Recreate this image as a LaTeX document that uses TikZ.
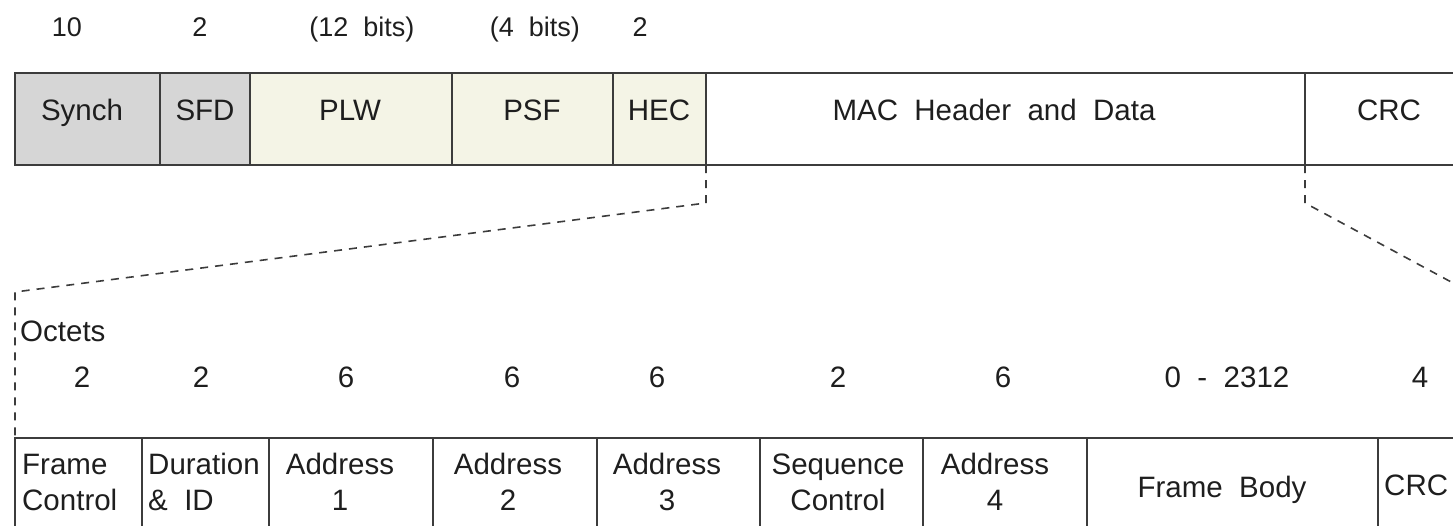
\documentclass[tikz,border=0pt]{standalone}
\usepackage{fontspec}
\setmainfont{Liberation Sans}[WordSpace=2]
\definecolor{txtcol}{HTML}{1E1E1E}
\definecolor{linecol}{HTML}{3C3C3C}
\definecolor{graycell}{HTML}{D6D6D6}
\definecolor{yelcell}{HTML}{F4F4E6}
\begin{document}
\begin{tikzpicture}[x=1pt,y=-1pt,
  cell/.style={draw=linecol, line width=2.2pt, rectangle, inner sep=0pt, outer sep=0pt, anchor=north west},
  bcell/.style={draw=linecol, line width=1.8pt, rectangle, inner sep=0pt, outer sep=0pt, anchor=north west, minimum height=100pt},
  txt/.style={inner sep=0pt, text=txtcol, font=\fontsize{29.5}{36}\selectfont},
  toptxt/.style={inner sep=0pt, text=txtcol, font=\fontsize{27}{32}\selectfont},
  dashconn/.style={draw=linecol, line width=1.6pt, dash pattern=on 8pt off 7pt}
]
\useasboundingbox (0,0) rectangle (1453,525);
\clip (0,0) rectangle (1453,525);

% top sizes
\node[toptxt, anchor=base] (t1) at (67,36) {10};
\node[toptxt, anchor=base] (t2) at (200,36) {2};
\node[toptxt, anchor=base] (t3) at (362,36) {(12 bits)};
\node[toptxt, anchor=base] (t4) at (535,36) {(4 bits)};
\node[toptxt, anchor=base] (t5) at (640,36) {2};

% top frame
\node[cell, fill=graycell, minimum width=145pt, minimum height=92pt] (synch) at (15,73) {};
\node[cell, fill=graycell, minimum width=90pt, minimum height=92pt] (sfd) at (160,73) {};
\node[cell, fill=yelcell, minimum width=202pt, minimum height=92pt] (plw) at (250,73) {};
\node[cell, fill=yelcell, minimum width=161pt, minimum height=92pt] (psf) at (452,73) {};
\node[cell, fill=yelcell, minimum width=93pt, minimum height=92pt] (hec) at (613,73) {};
\node[cell, fill=white, minimum width=599pt, minimum height=92pt] (mac) at (706,73) {};
\node[cell, fill=white, minimum width=168pt, minimum height=92pt] (crc) at (1305,73) {};

\node[txt, anchor=base] (synchT) at (82,120) {Synch};
\node[txt, anchor=base] (sfdT) at (205,120) {SFD};
\node[txt, anchor=base] (plwT) at (350,120) {PLW};
\node[txt, anchor=base] (psfT) at (532,120) {PSF};
\node[txt, anchor=base] (hecT) at (659,120) {HEC};
\node[txt, anchor=base] (macT) at (994,120) {MAC Header and Data};
\node[txt, anchor=base] (crcT) at (1389,120) {CRC};

% bottom frame
\node[bcell, minimum width=127pt] (fc) at (15,438) {};
\node[bcell, minimum width=127pt] (di) at (142,438) {};
\node[bcell, minimum width=164pt] (a1) at (269,438) {};
\node[bcell, minimum width=164pt] (a2) at (433,438) {};
\node[bcell, minimum width=163pt] (a3) at (597,438) {};
\node[bcell, minimum width=163pt] (sc) at (760,438) {};
\node[bcell, minimum width=164pt] (a4) at (923,438) {};
\node[bcell, minimum width=291pt] (fb) at (1087,438) {};
\node[bcell, minimum width=110pt] (bcrc) at (1378,438) {};

\node[txt, anchor=base west] (octets) at (20,341) {Octets};
\node[txt, anchor=base] (n1) at (82,387) {2};
\node[txt, anchor=base] (n2) at (201,387) {2};
\node[txt, anchor=base] (n3) at (346,387) {6};
\node[txt, anchor=base] (n4) at (512,387) {6};
\node[txt, anchor=base] (n5) at (657,387) {6};
\node[txt, anchor=base] (n6) at (838,387) {2};
\node[txt, anchor=base] (n7) at (1003,387) {6};
\node[txt, anchor=base] (n8) at (1227,387) {0 - 2312};
\node[txt, anchor=base] (n9) at (1420,387) {4};

\node[txt, anchor=base west, align=left] (fcT) at (22,510) {Frame\\Control};
\node[txt, anchor=base west, align=left] (diT) at (148,510) {Duration\\\& ID};
\node[txt, anchor=base, align=center] (a1T) at (340,510) {Address\\1};
\node[txt, anchor=base, align=center] (a2T) at (508,510) {Address\\2};
\node[txt, anchor=base, align=center] (a3T) at (667,510) {Address\\3};
\node[txt, anchor=base, align=center] (scT) at (838,510) {Sequence\\Control};
\node[txt, anchor=base, align=center] (a4T) at (995,510) {Address\\4};
\node[txt, anchor=base] (fbT) at (1222,497) {Frame Body};
\node[txt, anchor=base west] (bcrcT) at (1384,495) {CRC};

% dashed expansion lines
\coordinate (lb) at (706,203);
\coordinate (lc) at (15,292);
\coordinate (rb) at (1305,203);
\coordinate (re) at (1490,303);
\draw[dashconn] (hec.south east) -- (lb) -- (lc) -- (fc.north west);
\draw[dashconn] (mac.south east) -- (rb) -- (re);
\end{tikzpicture}
\end{document}
